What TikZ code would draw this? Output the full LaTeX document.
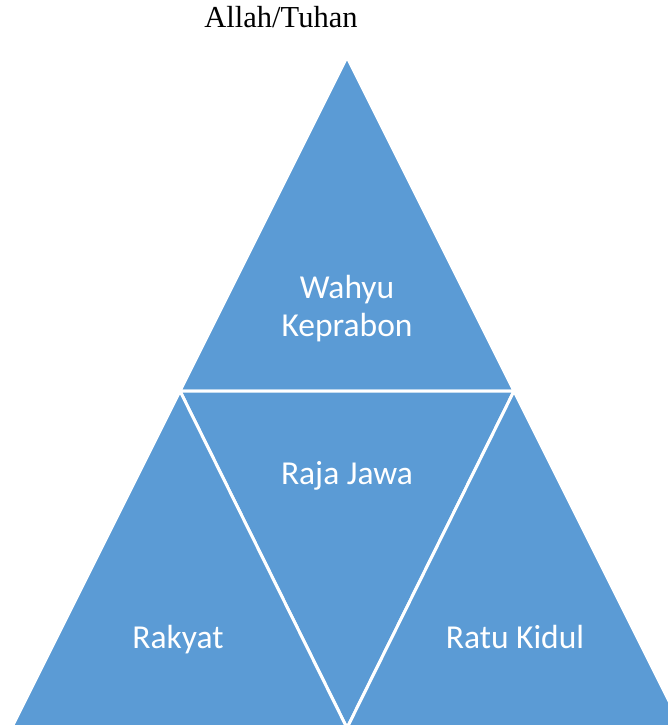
\documentclass[tikz,border=0pt]{standalone}
\usepackage{fontspec}
\setmainfont{Liberation Serif}
\newfontfamily\calib{Carlito}
\definecolor{tri}{HTML}{5B9BD5}
\begin{document}
\begin{tikzpicture}[x=1pt,y=-1pt,
  tripart/.style={fill=tri,draw=white,line width=3pt,line join=miter},
  lbl/.style={text=white,font=\calib\fontsize{33.5}{38}\selectfont,anchor=base,inner sep=0pt,align=center},
  top/.style={font=\fontsize{30.5}{34}\selectfont,anchor=base,inner sep=0pt}]
\useasboundingbox (0,0) rectangle (668,725);
\clip (0,0) rectangle (668,725);
\coordinate (A) at (347,57);
\coordinate (L) at (180,391);
\coordinate (R) at (514,391);
\coordinate (BL) at (11.5,728);
\coordinate (BM) at (347,728);
\coordinate (BR) at (682.5,728);
\filldraw[tripart] (A) -- (L) -- (R) -- cycle;
\filldraw[tripart] (L) -- (R) -- (BM) -- cycle;
\filldraw[tripart] (L) -- (BL) -- (BM) -- cycle;
\filldraw[tripart] (R) -- (BM) -- (BR) -- cycle;
\node[top] (god) at (281,28) {Allah/Tuhan};
\node[lbl] (wahyu) at (347,298) {Wahyu};
\node[lbl] (keprabon) at (347,336) {Keprabon};
\node[lbl] (raja) at (347,484) {Raja Jawa};
\node[lbl] (rakyat) at (178,648) {Rakyat};
\node[lbl] (ratu) at (515,648) {Ratu Kidul};
\end{tikzpicture}
\end{document}
